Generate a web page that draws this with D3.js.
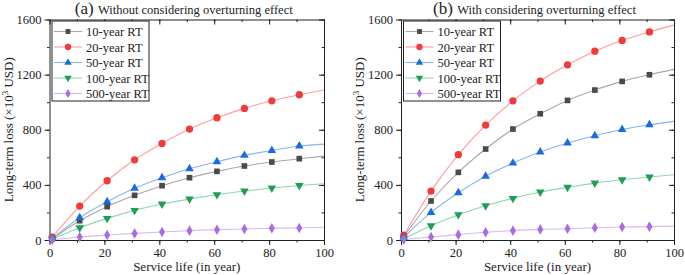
<!DOCTYPE html>
<html>
<head>
<meta charset="utf-8">
<script src="https://cdn.jsdelivr.net/npm/d3@7"></script>
<style>
  body { margin: 0; background: #fff; }
  svg { display: block; }
  svg text { font-family: "Liberation Serif", "Times New Roman", serif; }
  .axis path, .axis line { stroke: #222; }
  .axis text { font-size: 12.5px; fill: #222; }
</style>
</head>
<body>
<div id="wrapper"></div>
<script>
// Service life (years) where values were read; last point (100) is the line end, no marker there
const years = [1, 11, 21, 31, 41, 51, 61, 71, 81, 91, 100];
const seriesNames = ["10-year RT", "20-year RT", "50-year RT", "100-year RT", "500-year RT"];

// (a) Without considering overturning effect
const a10 = [8, 140, 242, 324, 394, 452, 498, 537, 566, 590, 609];
const a20 = [20, 246, 430, 582, 701, 805, 887, 955, 1010, 1054, 1088];
const a50 = [12, 162, 278, 375, 452, 517, 568, 614, 650, 682, 696];
const a100 = [6, 89, 157, 215, 261, 297, 329, 355, 377, 396, 408];
const a500 = [2, 22, 36, 48, 58, 68, 75, 80, 85, 87, 92];

// (b) With considering overturning effect
const b10 = [25, 283, 491, 660, 805, 916, 1013, 1088, 1151, 1199, 1238];
const b20 = [35, 355, 619, 834, 1010, 1153, 1271, 1370, 1448, 1510, 1559];
const b50 = [20, 200, 343, 462, 558, 638, 704, 757, 802, 836, 861];
const b100 = [8, 104, 184, 249, 302, 348, 382, 413, 437, 457, 474];
const b500 = [3, 22, 39, 56, 68, 77, 82, 89, 94, 97, 101];

const yTicks = [0, 400, 800, 1200, 1600];
const xTicks = [0, 20, 40, 60, 80, 100];

const styles = [
  { marker: "#4a4a4a", line: "#a8a8a8", shape: d3.symbolSquare, size: 32 },
  { marker: "#f23a3a", line: "#ff9c9c", shape: d3.symbolCircle, size: 42 },
  { marker: "#1b6ae0", line: "#8ab4ee", shape: d3.symbolTriangle, size: 32 },
  { marker: "#1e9e57", line: "#92d6b0", shape: "down", size: 32 },
  { marker: "#ab6ce0", line: "#d9b8f2", shape: d3.symbolDiamond, size: 32 },
];

const panels = [
  { label: "(a)", title: "Without considering overturning effect", left: 49.5, right: 324, series: [a10, a20, a50, a100, a500] },
  { label: "(b)", title: "With considering overturning effect", left: 401, right: 674, series: [b10, b20, b50, b100, b500] },
];

const dims = { width: 685, height: 275, top: 19.5, bottom: 240 };
const serif = "'Liberation Serif', 'Times New Roman', serif";

const svg = d3.select("#wrapper").append("svg")
  .attr("width", dims.width)
  .attr("height", dims.height);

const symbolPath = (st, scale = 1) => {
  const shape = st.shape === "down" ? d3.symbolTriangle : st.shape;
  return d3.symbol(shape, st.size * scale)();
};

panels.forEach((p, pi) => {
  const xScale = d3.scaleLinear().domain([0, 100]).range([p.left, p.right]);
  const yScale = d3.scaleLinear().domain([0, 1600]).range([dims.bottom, dims.top]);
  const g = svg.append("g");

  // axes: outward ticks bottom/left, inward mirrored top/right
  const minorX = d3.range(0, 101, 10);
  const minorY = d3.range(0, 1601, 200);
  const fmt = d3.format("d");

  const addAxis = (gen, tr, values, size, labels) => {
    const ax = g.append("g").attr("class", "axis")
      .attr("transform", tr)
      .call(gen.tickValues(values).tickSize(size).tickSizeOuter(0).tickPadding(3)
        .tickFormat(labels ? fmt : ""));
    ax.attr("font-family", serif);
    return ax;
  };

  addAxis(d3.axisBottom(xScale), `translate(0,${dims.bottom})`, minorX, 2.5, false).select(".domain").remove();
  addAxis(d3.axisBottom(xScale), `translate(0,${dims.bottom})`, xTicks, 5, true);
  addAxis(d3.axisLeft(yScale), `translate(${p.left},0)`, minorY, 2.5, false).select(".domain").remove();
  addAxis(d3.axisLeft(yScale), `translate(${p.left},0)`, yTicks, 5, true);
  addAxis(d3.axisBottom(xScale), `translate(0,${dims.top})`, minorX, 2.5, false).select(".domain").remove();
  addAxis(d3.axisBottom(xScale), `translate(0,${dims.top})`, xTicks, 5, false);
  addAxis(d3.axisLeft(yScale), `translate(${p.right},0)`, minorY, 2.5, false).select(".domain").remove();
  addAxis(d3.axisLeft(yScale), `translate(${p.right},0)`, yTicks, 5, false);

  // clip lines to plot box
  g.append("defs").append("clipPath").attr("id", `clip-${pi}`)
    .append("rect")
      .attr("x", p.left).attr("y", dims.top)
      .attr("width", p.right - p.left).attr("height", dims.bottom - dims.top);

  const lineGen = d3.line()
    .x((d, i) => xScale(years[i]))
    .y(d => yScale(d))
    .curve(d3.curveMonotoneX);

  p.series.forEach((vals, si) => {
    g.append("path")
      .attr("clip-path", `url(#clip-${pi})`)
      .attr("d", lineGen(vals))
      .attr("fill", "none")
      .attr("stroke", styles[si].line)
      .attr("stroke-width", 1.1);
  });
  p.series.forEach((vals, si) => {
    const st = styles[si];
    g.selectAll(null)
      .data(vals.slice(0, years.length - 1))
      .join("path")
        .attr("d", symbolPath(st))
        .attr("transform", (d, i) => `translate(${xScale(years[i])},${yScale(d)})` + (st.shape === "down" ? " rotate(180)" : ""))
        .attr("fill", st.marker);
  });

  // legend
  const lg = g.append("g").attr("transform", `translate(${p.left + 2.5},${dims.top + 1.5})`);
  lg.append("rect")
    .attr("width", 97).attr("height", 80)
    .attr("fill", "#fff").attr("stroke", "#222").attr("stroke-width", 1);
  seriesNames.forEach((name, si) => {
    const st = styles[si];
    const yy = 10.5 + si * 15.5;
    lg.append("line")
      .attr("x1", 2).attr("x2", 30).attr("y1", yy).attr("y2", yy)
      .attr("stroke", st.line).attr("stroke-width", 1.1);
    lg.append("path")
      .attr("d", symbolPath(st, 0.75))
      .attr("transform", `translate(16,${yy})` + (st.shape === "down" ? " rotate(180)" : ""))
      .attr("fill", st.marker);
    lg.append("text")
      .attr("x", 34).attr("y", yy + 4.5)
      .attr("font-size", 12.5).attr("fill", "#222")
      .text(name);
  });

  // title
  const t = svg.append("text")
    .attr("x", (p.left + p.right) / 2 - 3).attr("y", 14)
    .attr("text-anchor", "middle").attr("fill", "#222");
  t.append("tspan").attr("font-size", 17).text(p.label + " ");
  t.append("tspan").attr("font-size", 12.5).text(p.title);

  // axis titles
  svg.append("text")
    .attr("x", (p.left + p.right) / 2).attr("y", 271)
    .attr("text-anchor", "middle").attr("font-size", 13).attr("fill", "#222")
    .text("Service life (in year)");

  const yl = svg.append("text")
    .attr("transform", `translate(${p.left - 37},${(dims.top + dims.bottom) / 2}) rotate(-90)`)
    .attr("text-anchor", "middle").attr("font-size", 13).attr("fill", "#222");
  yl.append("tspan").text("Long-term loss (×10");
  yl.append("tspan").attr("font-size", 9).attr("dy", -5).text("3");
  yl.append("tspan").attr("dy", 5).text(" USD)");
});
</script>
</body>
</html>
